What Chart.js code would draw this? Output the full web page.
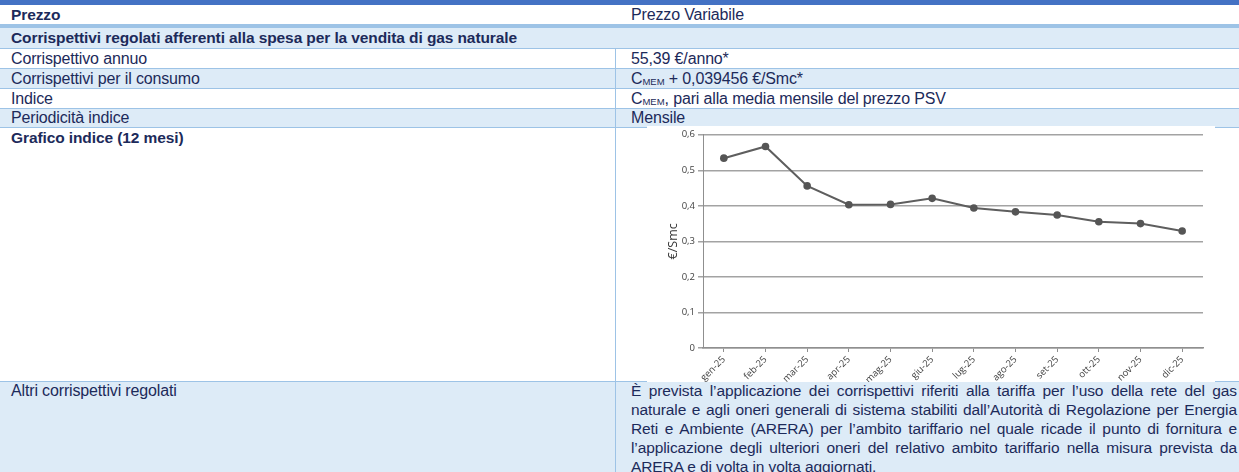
<!DOCTYPE html>
<html>
<head>
<meta charset="utf-8">
<script src="https://cdn.jsdelivr.net/npm/chart.js@4.4.1/dist/chart.umd.min.js"></script>
<style>
  html, body { margin:0; padding:0; width:1239px; height:472px; overflow:hidden; background:#fff; }
  body { position:relative; font-family:"Liberation Sans", Arial, sans-serif; color:#1c2a5a; }
  .abs { position:absolute; }
  .row { position:absolute; left:0; width:1239px; }
  .light { background:#ddebf7; }
  .white { background:#fff; }
  .hline { position:absolute; left:0; width:1239px; height:1px; background:#9dc3e6; }
  .txt { position:absolute; font-size:16px; line-height:19px; letter-spacing:-0.15px; white-space:nowrap; }
  .b { font-size:15.5px; font-weight:bold; letter-spacing:-0.1px; }
  .sub { font-size:9.5px; letter-spacing:0; vertical-align:-1px; }
  #para { position:absolute; left:631px; top:381px; width:606px; font-size:15.5px; line-height:19px; text-align:justify; letter-spacing:-0.1px; }
  #chartBox { position:absolute; left:647px; top:126px; width:568px; height:256px; background:#fff; }
</style>
</head>
<body>
<div class="row" style="top:0;height:5px;background:#4472c4;"></div>
<div class="row white" style="top:5px;height:19px;"></div>
<div class="row" style="top:24px;height:4px;background:#9dc3e6;"></div>
<div class="row light" style="top:28px;height:20px;"></div>
<div class="hline" style="top:48px;"></div>
<div class="row white" style="top:49px;height:19px;"></div>
<div class="hline" style="top:68px;"></div>
<div class="row light" style="top:69px;height:19px;"></div>
<div class="hline" style="top:88px;"></div>
<div class="row white" style="top:89px;height:19px;"></div>
<div class="hline" style="top:108px;"></div>
<div class="row light" style="top:109px;height:18px;"></div>
<div class="hline" style="top:127px;"></div>
<div class="row white" style="top:128px;height:253px;"></div>
<div class="hline" style="top:381px;"></div>
<div class="row light" style="top:382px;height:90px;"></div>
<div class="abs" style="left:615px;top:48px;width:1px;height:424px;background:#9dc3e6;"></div>

<div class="txt b" style="left:11px;top:5px;">Prezzo</div>
<div class="txt" style="left:631px;top:5px;">Prezzo Variabile</div>
<div class="txt b" style="left:11px;top:28px;">Corrispettivi regolati afferenti alla spesa per la vendita di gas naturale</div>
<div class="txt" style="left:11px;top:49px;">Corrispettivo annuo</div>
<div class="txt" style="left:631px;top:49px;">55,39 €/anno*</div>
<div class="txt" style="left:11px;top:69px;">Corrispettivi per il consumo</div>
<div class="txt" style="left:631px;top:69px;">C<span class="sub">MEM</span> + 0,039456 €/Smc*</div>
<div class="txt" style="left:11px;top:89px;">Indice</div>
<div class="txt" style="left:631px;top:89px;">C<span class="sub">MEM</span>, pari alla media mensile del prezzo PSV</div>
<div class="txt" style="left:11px;top:108px;">Periodicità indice</div>
<div class="txt" style="left:631px;top:108px;">Mensile</div>
<div class="txt b" style="left:11px;top:128px;">Grafico indice (12 mesi)</div>
<div class="txt" style="left:11px;top:381px;">Altri corrispettivi regolati</div>
<div id="para">È prevista l’applicazione dei corrispettivi riferiti alla tariffa per l’uso della rete del gas naturale e agli oneri generali di sistema stabiliti dall’Autorità di Regolazione per Energia Reti e Ambiente (ARERA) per l’ambito tariffario nel quale ricade il punto di fornitura e l’applicazione degli ulteriori oneri del relativo ambito tariffario nella misura prevista da ARERA e di volta in volta aggiornati.</div>

<div id="chartBox"><canvas id="c" width="568" height="256"></canvas></div>

<script>
const months = ['gen-25','feb-25','mar-25','apr-25','mag-25','giu-25','lug-25','ago-25','set-25','ott-25','nov-25','dic-25'];
const cmemValues = [0.534, 0.567, 0.456, 0.403, 0.404, 0.421, 0.394, 0.383, 0.374, 0.355, 0.350, 0.329];
const yTickValues = [0, 0.1, 0.2, 0.3, 0.4, 0.5, 0.6];
const yAxisTitle = '€/Smc';

new Chart(document.getElementById('c'), {
  type: 'line',
  data: {
    labels: months,
    datasets: [{
      data: cmemValues,
      borderColor: '#5e5e5e',
      borderWidth: 2,
      pointRadius: 3.8,
      pointBackgroundColor: '#555555',
      pointBorderColor: '#555555',
      pointBorderWidth: 0,
      tension: 0,
      fill: false
    }]
  },
  options: {
    responsive: false,
    animation: false,
    devicePixelRatio: 1,
    layout: { padding: { top: 6, right: 12, left: 19, bottom: 0 } },
    plugins: { legend: { display: false }, tooltip: { enabled: false } },
    scales: {
      x: {
        offset: true,
        grid: { drawOnChartArea: false, drawTicks: true, tickLength: 4, offset: false, color: '#8f8f8f', lineWidth: 1 },
        border: { display: true, color: '#8f8f8f', width: 1.5 },
        ticks: { minRotation: 45, maxRotation: 45, autoSkip: false, color: '#3f3f3f', padding: 2,
                 font: { family: 'Open Sans', size: 9.5 } },
        afterFit: s => { s.height = 34; }
      },
      y: {
        min: 0, max: 0.6,
        afterBuildTicks: s => { s.ticks = yTickValues.map(v => ({ value: v })); },
        grid: { color: '#a3a3a3', lineWidth: 1.5, drawTicks: true, tickLength: 5 },
        border: { display: true, color: '#8f8f8f', width: 1 },
        ticks: { color: '#3f3f3f', padding: 3, font: { family: 'Open Sans', size: 9.5 },
                 callback: v => String(Math.round(v * 10) / 10).replace('.', ',') },
        title: { display: true, text: yAxisTitle, color: '#333', font: { family: 'Open Sans', size: 12.5 }, padding: 0 },
        afterFit: s => { s.width = 37; }
      }
    }
  }
});
</script>
</body>
</html>
